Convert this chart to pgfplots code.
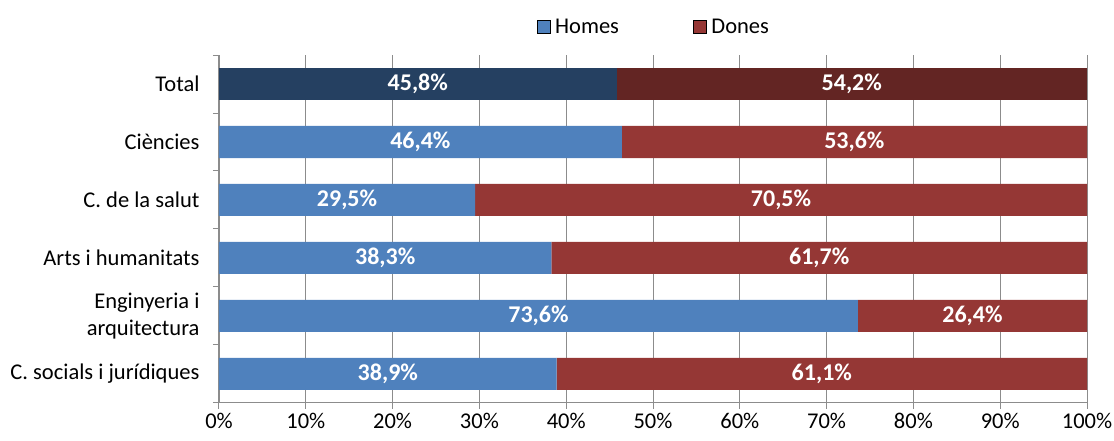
\documentclass[border=0pt]{standalone}
\usepackage{fontspec}
\setmainfont{Carlito}
\usepackage{pgfplots}
\pgfplotsset{compat=1.18}
\definecolor{hom}{HTML}{4F81BD}
\definecolor{don}{HTML}{953735}
\definecolor{homT}{HTML}{254061}
\definecolor{donT}{HTML}{632523}
\definecolor{axg}{HTML}{8C8C8C}
\begin{document}
\begin{tikzpicture}[x=1pt,y=1pt]
\path[use as bounding box] (-219,-38) rectangle (895,403);
\begin{axis}[at={(0,0)}, anchor=south west, scale only axis,
  width=868pt, height=348pt,
  xmin=0, xmax=100, ymin=-0.5, ymax=5.5,
  xbar stacked, bar width=32pt,
  axis lines*=left,
  axis line style={axg, line width=1pt},
  tick style={axg, line width=1pt},
  tick align=outside, major tick length=6pt,
  xtick={0,10,...,100},
  xticklabels={0\%,10\%,20\%,30\%,40\%,50\%,60\%,70\%,80\%,90\%,100\%},
  xmajorgrids, grid style={axg, line width=0.8pt},
  ytick={-0.5,0.5,...,5.5}, yticklabels={},
  extra y ticks={0,1,2,3,4,5},
  extra y tick labels={C. socials i jurídiques,{Enginyeria i\\arquitectura},Arts i humanitats,C. de la salut,Ciències,Total},
  extra y tick style={major tick length=0pt, tick style={draw=none}},
  tick label style={font=\fontsize{22.5}{27}\selectfont, text=black},
  yticklabel style={align=right, xshift=-16pt},
  xticklabel style={yshift=-1pt},
  legend style={at={(0.501,1)}, anchor=center, yshift=28pt, draw=none,
    font=\fontsize{22.5}{27}\selectfont, legend columns=2,
    /tikz/every even column/.append style={column sep=72pt},
    /tikz/every odd column/.append style={column sep=3pt}},
  legend image code/.code={\fill[#1] (0pt,-6.5pt) rectangle (13pt,6.5pt);},
  nodes near coords={\pgfmathfloatifflags{\pgfplotspointmeta}{0}{}{\pgfmathprintnumber[assume math mode=true,use comma,fixed,fixed zerofill,precision=1]{\pgfplotspointmeta}\%}},
  every node near coord/.append style={anchor=center, text=white, font=\fontsize{24}{26}\selectfont\bfseries},
]
\addlegendimage{fill=hom}
\addlegendentry{Homes}
\addlegendimage{fill=don}
\addlegendentry{Dones}
\addplot[fill=hom, draw=none, forget plot] coordinates {(38.9,0) (73.6,1) (38.3,2) (29.5,3) (46.4,4) (0,5)};
\addplot[fill=homT, draw=none, forget plot] coordinates {(0,0) (0,1) (0,2) (0,3) (0,4) (45.8,5)};
\addplot[fill=don, draw=none, forget plot] coordinates {(61.1,0) (26.4,1) (61.7,2) (70.5,3) (53.6,4) (0,5)};
\addplot[fill=donT, draw=none, forget plot] coordinates {(0,0) (0,1) (0,2) (0,3) (0,4) (54.2,5)};
\end{axis}
\end{tikzpicture}
\end{document}
